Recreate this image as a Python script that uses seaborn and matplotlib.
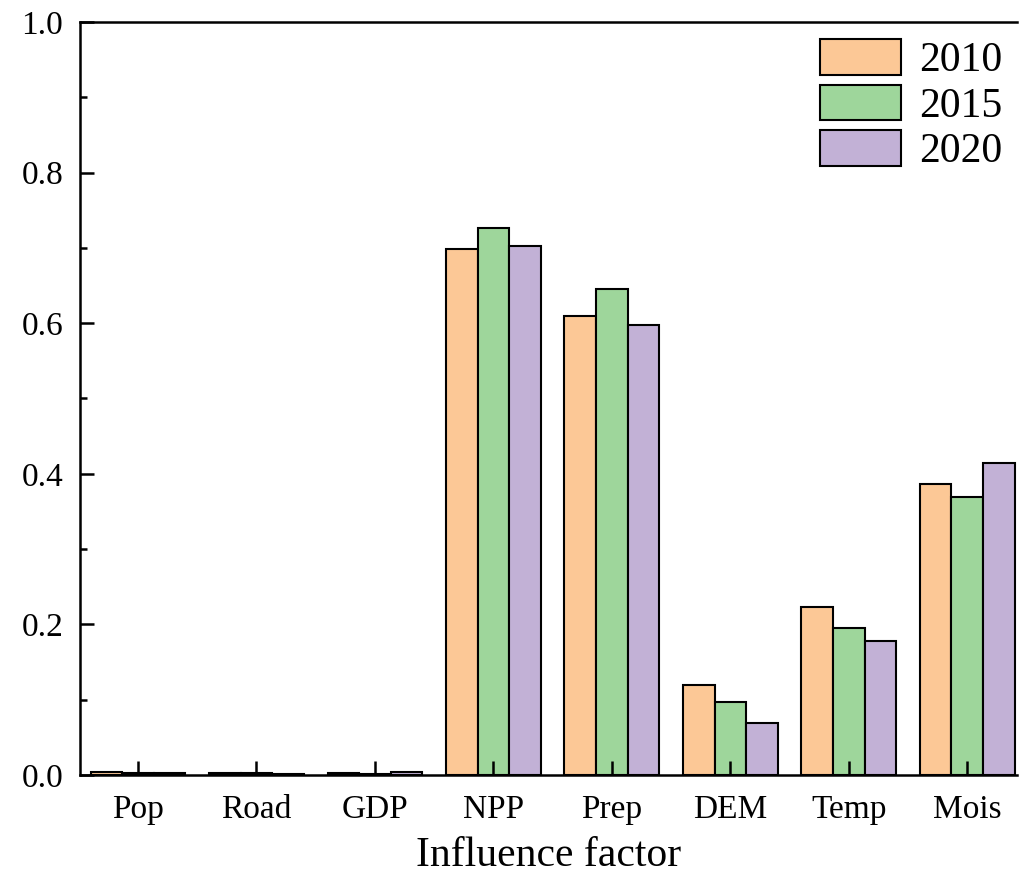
import numpy as np
import pandas as pd
import seaborn as sns
import matplotlib.pyplot as plt
from matplotlib.patches import Patch
from matplotlib.ticker import MultipleLocator

#Data----------------------------------------------------------------------

factors = ["Pop", "Road", "GDP", "NPP", "Prep", "DEM", "Temp", "Mois"]
years = ["2010", "2015", "2020"]
v2010 = [0.004, 0.002, 0.003, 0.699, 0.609, 0.119, 0.223, 0.386]
v2015 = [0.003, 0.002, 0.001, 0.726, 0.645, 0.097, 0.195, 0.369]
v2020 = [0.002, 0.001, 0.004, 0.702, 0.598, 0.069, 0.178, 0.414]
colors = ["#FCC896", "#9ED69B", "#C2B1D6"]

df = pd.DataFrame({
    "factor": factors * 3,
    "year": [y for y in years for _ in factors],
    "value": v2010 + v2015 + v2020,
})

#Plot----------------------------------------------------------------------

sns.set_style("ticks")
plt.rcParams["font.family"] = ["Liberation Serif", "DejaVu Serif"]
plt.rcParams["text.color"] = "black"
plt.rcParams["xtick.color"] = "black"
plt.rcParams["ytick.color"] = "black"
plt.rcParams["axes.labelcolor"] = "black"
plt.rcParams["axes.edgecolor"] = "black"

fig = plt.figure(figsize=(10.19, 8.75), dpi=100)
ax = fig.add_axes([0.0785, 0.1143, 0.9195, 0.8606])

sns.barplot(data=df, x="factor", y="value", hue="year", palette=colors,
            saturation=1, edgecolor="black", linewidth=1.5, width=0.8,
            ax=ax, legend=False)
ax.set_axisbelow(False)

ax.set_xlim(-0.49, 7.42)
ax.set_ylim(0, 1.0)
ax.yaxis.set_major_locator(MultipleLocator(0.2))
ax.yaxis.set_minor_locator(MultipleLocator(0.1))
ax.yaxis.set_major_formatter(lambda v, p: "%.1f" % v)

ax.tick_params(axis="both", which="major", direction="in", length=10,
               width=1.8, labelsize=24, pad=12)
ax.tick_params(axis="y", which="minor", direction="in", length=5, width=1.8)
ax.tick_params(axis="x", which="major", pad=14)

ax.set_xlabel("Influence factor", fontsize=30, labelpad=8)
ax.set_ylabel("")

for side in ["left", "bottom", "top"]:
    ax.spines[side].set_linewidth(1.8)
ax.spines["right"].set_visible(False)

handles = [Patch(facecolor=c, edgecolor="black", linewidth=1.5, label=y)
           for c, y in zip(colors, years)]
ax.legend(handles=handles, loc="upper right", frameon=False, fontsize=30,
          handlelength=1.95, handleheight=0.95, handletextpad=0.45,
          labelspacing=0.1, borderaxespad=0.3, bbox_to_anchor=(1.016, 1.016))

fig.savefig("out.png", dpi=100)
